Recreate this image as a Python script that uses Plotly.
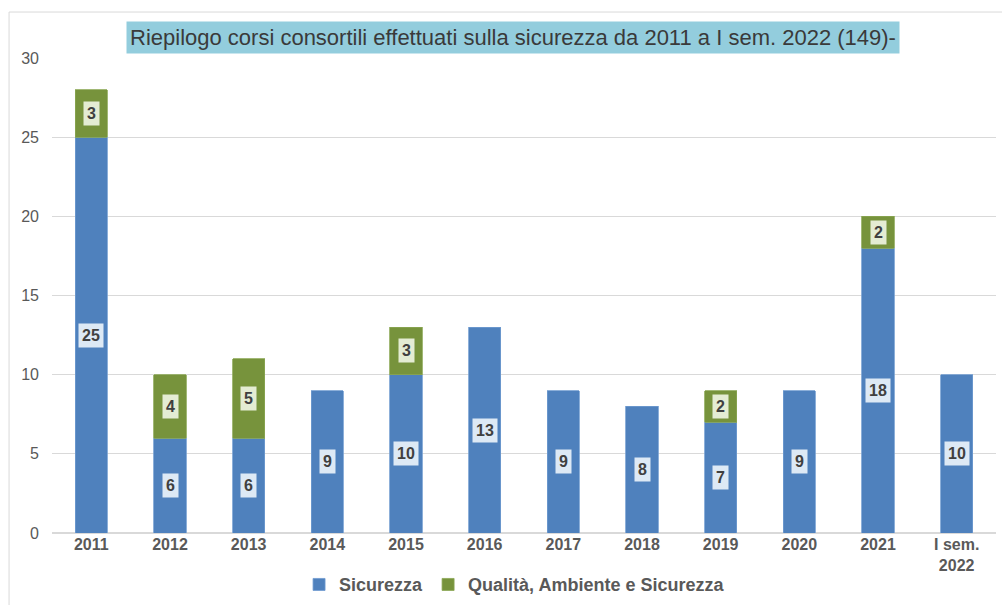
import plotly.graph_objects as go

categories = ["2011", "2012", "2013", "2014", "2015", "2016", "2017", "2018", "2019", "2020", "2021", "I sem.<br>2022"]
sicurezza = [25, 6, 6, 9, 10, 13, 9, 8, 7, 9, 18, 10]
qas = [3, 4, 5, 0, 3, 0, 0, 0, 2, 0, 2, 0]
y_ticks = [0, 5, 10, 15, 20, 25, 30]

BLUE = "#4f81bd"
GREEN = "#77933c"
TXT = "#595959"
FONT = "Liberation Sans, Arial, sans-serif"

fig = go.Figure()
fig.add_trace(go.Bar(x=categories, y=sicurezza, name="<b>Sicurezza</b>",
                     marker=dict(color=BLUE, line=dict(color="#6f9bd0", width=0.8)), width=0.41))
fig.add_trace(go.Bar(x=categories, y=[v if v else None for v in qas], name="<b>Qualità, Ambiente e Sicurezza</b>",
                     marker=dict(color=GREEN, line=dict(color="#8aa653", width=0.8)), width=0.41))

annotations = []
for i, (s, q) in enumerate(zip(sicurezza, qas)):
    annotations.append(dict(x=i, y=s / 2, xref="x", yref="y", text=f"<b>{s}</b>", showarrow=False,
                            bgcolor="#dde9f5", font=dict(size=16, color="#404040", family=FONT),
                            borderpad=3))
    if q:
        annotations.append(dict(x=i, y=s + q / 2, xref="x", yref="y", text=f"<b>{q}</b>", showarrow=False,
                                bgcolor="#e4ecd3", font=dict(size=16, color="#404040", family=FONT),
                                borderpad=3))

annotations.append(dict(x=0.488, y=1.044, xref="paper", yref="paper", xanchor="center", yanchor="middle",
                        text="Riepilogo corsi consortili effettuati sulla sicurezza da 2011 a I sem. 2022 (149)-",
                        showarrow=False, bgcolor="#93cddd",
                        font=dict(size=22, color="#3a3a3a", family="Liberation Sans Narrow, Arial Narrow, Liberation Sans, sans-serif"),
                        borderpad=3))

fig.update_layout(
    barmode="stack",
    width=1002, height=605,
    margin=dict(l=52, r=6, t=58, b=72, autoexpand=False),
    paper_bgcolor="white", plot_bgcolor="white",
    font=dict(family=FONT, color=TXT),
    showlegend=True,
    legend=dict(orientation="h", x=0.49, xanchor="center", y=-0.07, yanchor="top",
                traceorder="normal",
                font=dict(size=18, color=TXT, family=FONT)),
    annotations=annotations,
    shapes=[dict(type="rect", xref="paper", yref="paper", x0=-0.0455, x1=1.02, y0=-0.3, y1=1.0968,
                 line=dict(color="#d9d9d9", width=1), layer="below")],
    xaxis=dict(type="category", range=[-0.5, len(categories) - 0.5], automargin=False,
               tickfont=dict(size=16, color=TXT, family=FONT), showline=False, showgrid=False,
               tickprefix="<b>", ticksuffix="</b>"),
    yaxis=dict(range=[0, 30], tickvals=y_ticks, tickfont=dict(size=16, color=TXT, family=FONT),
               tickprefix="<b>", ticksuffix="</b>", automargin=False,
               showgrid=True, gridcolor="#d9d9d9", zeroline=True, zerolinecolor="#d9d9d9",
               ticklabelstandoff=12),
)

fig.write_html("out.html", config={"displayModeBar": False},
               post_script="document.body.style.margin='0';")
